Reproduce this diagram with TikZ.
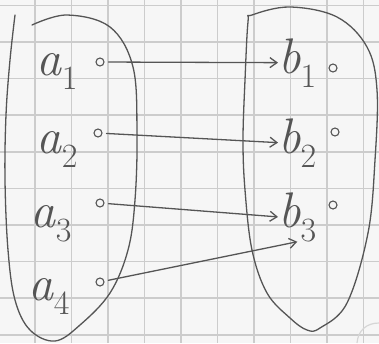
\documentclass[tikz,border=0pt]{standalone}
\usepackage{fontspec}
\usetikzlibrary{arrows.meta}
\definecolor{paper}{HTML}{F6F6F6}
\definecolor{gridc}{HTML}{CCCCCC}
\definecolor{pen}{HTML}{555555}
\definecolor{faint}{HTML}{D6D6D6}
\newcommand\setlbl[2]{\textit{#1}\raisebox{-0.28em}{\fontsize{34}{34}\selectfont #2}}
\begin{document}
\begin{tikzpicture}[x=1pt,y=-1pt,
  pencil/.style={draw=pen,line width=1.3pt,line cap=round,line join=round},
  dot/.style={circle,draw=pen,line width=1.1pt,inner sep=0pt,minimum size=8pt},
  lab/.style={text=pen,font=\fontsize{50}{50}\selectfont,inner sep=0pt,anchor=base west},
  link/.style={pencil,shorten <=4pt,-{Straight Barb[length=7pt,width=10pt]}}]
\fill[paper] (0,0) rectangle (379,343);
\useasboundingbox (0,0) rectangle (379,343);
\foreach \i in {0,...,9} \draw[gridc,line width=1.5pt] ({35+36.5*\i},0) -- ({35+36.5*\i},343);
\foreach \i in {0,...,9} \draw[gridc,line width=1.5pt] (0,{5.4+36.6*\i}) -- (379,{5.4+36.6*\i});
% faint mark
\draw[faint,line width=1.2pt] (357,343) .. controls (358,330) and (367,323) .. (379,323);
% left set
\draw[pencil] plot[smooth,tension=0.6] coordinates {(32,25) (67,15) (110,27) (133,67) (137,133) (135,200) (128,250) (110,293) (80,325) (55,341) (30,330) (15,300) (8,250) (5,180) (6,115) (10,60) (15,15)};
% right set
\draw[pencil] plot[smooth cycle,tension=0.6] coordinates {(252,15) (290,7) (337,17) (367,47) (377,90) (375,160) (368,233) (347,303) (320,328) (307,330) (290,318) (267,293) (252,250) (245,190) (243,140) (245,80) (248,22)};
% labels
\node[lab] (la1) at (36,75) {\setlbl{a}{1}};
\node[lab] (la2) at (36,153) {\setlbl{a}{2}};
\node[lab] (la3) at (30,227) {\setlbl{a}{3}};
\node[lab] (la4) at (28,300) {\setlbl{a}{4}};
\node[lab] (lb1) at (278,73) {\setlbl{b}{1}};
\node[lab] (lb2) at (278,153) {\setlbl{b}{2}};
\node[lab] (lb3) at (278,227) {\setlbl{b}{3}};
% dots
\node[dot] (ca1) at (100,62) {};
\node[dot] (ca2) at (98,133) {};
\node[dot] (ca3) at (100,203) {};
\node[dot] (ca4) at (100,282) {};
\node[dot] (cb1) at (333,68) {};
\node[dot] (cb2) at (335,132) {};
\node[dot] (cb3) at (333,205) {};
% arrows
\draw[link] (ca1) -- (lb1.west);
\draw[link] (ca2) -- (lb2.west);
\draw[link] (ca3) -- (lb3.west);
\draw[link] (ca4) -- (lb3.south);
\end{tikzpicture}
\end{document}
